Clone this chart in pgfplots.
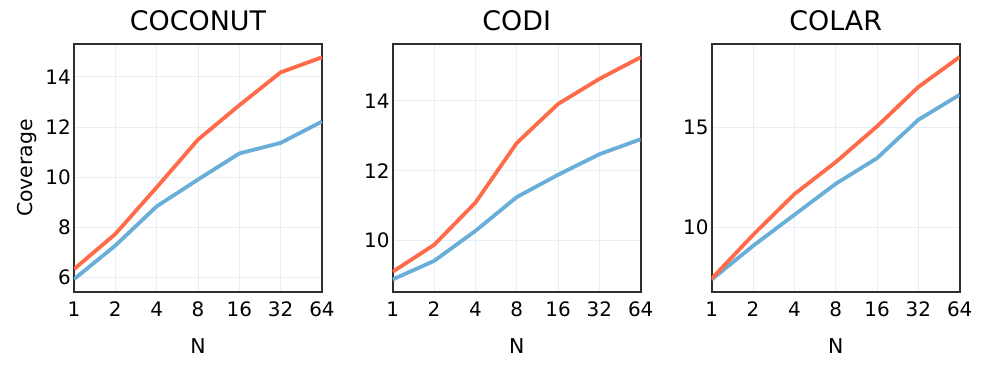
\documentclass[border=0pt]{standalone}
\usepackage{pgfplots}
\pgfplotsset{compat=1.18}
\usepackage{fontspec}
\setmainfont{DejaVu Sans}

\definecolor{lineorange}{HTML}{FF6A48}
\definecolor{lineblue}{HTML}{68AED8}
\definecolor{gridcol}{HTML}{E8EEF6}
\definecolor{framecol}{HTML}{2E2E2E}

\pgfplotsset{
  every axis/.append style={
    scale only axis,
    width=248bp, height=248bp,
    xmode=log, log basis x=2,
    xmin=1, xmax=64,
    xtick={1,2,4,8,16,32,64},
    xticklabels={1,2,4,8,16,32,64},
    major tick length=0pt,
    grid=major,
    major grid style={gridcol, line width=1bp},
    axis line style={framecol, line width=1.6bp},
    /pgf/number format/assume math mode=true,
    tick label style={font=\fontsize{20}{20}\selectfont},
    xticklabel style={inner sep=0pt, anchor=north, yshift=-10bp},
    yticklabel style={inner sep=0pt, anchor=east, xshift=-3bp},
    title style={at={(axis description cs:0.5,1.0296)}, anchor=base,
      font=\fontsize{27}{27}\selectfont},
    xlabel style={at={(axis description cs:0.5,-0.246)}, anchor=base,
      font=\fontsize{20.5}{20.5}\selectfont},
    ylabel style={at={(axis description cs:-0.169,0.5)}, anchor=base,
      font=\fontsize{20.5}{20.5}\selectfont},
    xlabel={N},
  },
  every axis plot/.append style={line width=3.8bp, line join=round},
}

\begin{document}
\begin{tikzpicture}
\useasboundingbox (0bp,0bp) rectangle (997bp,378bp);

\begin{axis}[at={(74bp,86bp)}, anchor=south west,
  title={COCONUT}, ylabel={Coverage},
  ymin=5.43, ymax=15.31, ytick={6,8,10,12,14}]
\addplot[lineblue] coordinates {
  (1,5.94) (2,7.28) (4,8.84) (8,9.91) (16,10.95) (32,11.37) (64,12.22)};
\addplot[lineorange] coordinates {
  (1,6.34) (2,7.74) (4,9.60) (8,11.50) (16,12.87) (32,14.18) (64,14.78)};
\end{axis}

\begin{axis}[at={(392.7bp,86bp)}, anchor=south west,
  title={CODI},
  ymin=8.52, ymax=15.63, ytick={10,12,14}]
\addplot[lineblue] coordinates {
  (1,8.88) (2,9.41) (4,10.27) (8,11.24) (16,11.88) (32,12.47) (64,12.90)};
\addplot[lineorange] coordinates {
  (1,9.10) (2,9.87) (4,11.08) (8,12.79) (16,13.91) (32,14.63) (64,15.25)};
\end{axis}

\begin{axis}[at={(711.7bp,86bp)}, anchor=south west,
  title={COLAR},
  ymin=6.74, ymax=19.21, ytick={10,15}]
\addplot[lineblue] coordinates {
  (1,7.37) (2,9.06) (4,10.62) (8,12.18) (16,13.47) (32,15.40) (64,16.66)};
\addplot[lineorange] coordinates {
  (1,7.41) (2,9.61) (4,11.66) (8,13.27) (16,15.07) (32,17.05) (64,18.56)};
\end{axis}
\end{tikzpicture}
\end{document}
